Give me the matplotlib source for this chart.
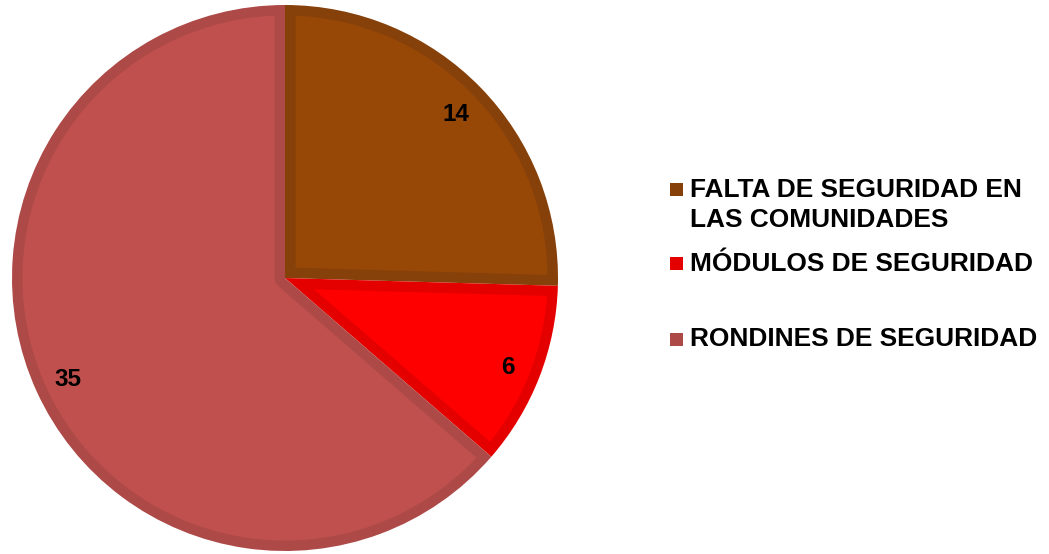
import matplotlib
matplotlib.use("Agg")
import numpy as np
import matplotlib.pyplot as plt
from matplotlib.patches import Rectangle

categories = ["FALTA DE SEGURIDAD EN\nLAS COMUNIDADES", "MÓDULOS DE SEGURIDAD", "RONDINES DE SEGURIDAD"]
values = [14, 6, 35]
colors = ["#974706", "#FF0000", "#C0504D"]
edge_colors = ["#86400A", "#E50000", "#AD4A48"]

W, H, DPI = 1049, 554, 100
plt.rcParams['font.family'] = ['Liberation Sans', 'DejaVu Sans']
fig = plt.figure(figsize=(W / DPI, H / DPI), dpi=DPI)

cx, cy, rpx = 285, 278, 273
ax = fig.add_axes([(cx - rpx) / W, (H - cy - rpx) / H, 2 * rpx / W, 2 * rpx / H])

total = sum(values)
wedges, texts, autotexts = ax.pie(
    values, colors=edge_colors, startangle=90, counterclock=False, radius=1,
    wedgeprops=dict(linewidth=0),
    autopct=lambda p: f"{round(p * total / 100):.0f}", pctdistance=0.875,
    textprops=dict(fontsize=17.5, fontweight='bold', color='black'))
ax.set_xlim(-1, 1)
ax.set_ylim(-1, 1)
ax.set_aspect('equal')
ax.axis('off')


def inset_sector(a1, a2, R, d):
    """Polygon of a circular sector (degrees a1..a2 ccw) shrunk inward by d."""
    a1r, a2r = np.radians(a1), np.radians(a2)
    s = a2r - a1r
    t = np.sqrt((R - d) ** 2 - d ** 2)
    delta = np.arctan2(d, t)
    arc = np.linspace(a1r + delta, a2r - delta, 200)
    pts = [((R - d) * np.cos(a), (R - d) * np.sin(a)) for a in arc]
    if s < np.pi:
        bis = (a1r + a2r) / 2
        L = d / np.sin(s / 2)
        pts.append((L * np.cos(bis), L * np.sin(bis)))
    else:
        small = np.linspace(a2r - np.pi / 2, a1r + np.pi / 2, 60)
        pts += [(d * np.cos(a), d * np.sin(a)) for a in small]
    return np.array(pts)


d = 10.5 / rpx
for w, fc in zip(wedges, colors):
    poly = inset_sector(w.theta1, w.theta2, w.r, d)
    ax.fill(poly[:, 0], poly[:, 1], color=fc, linewidth=0, zorder=w.get_zorder() + 0.1)
for t in autotexts:
    t.set_zorder(5)
    t.set_va('center_baseline')

# legend (manual, to match the uneven spacing)
sq = 13
sq_centers = [189, 263, 339]
baselines = [[197, 227], [271], [346.5]]
for sqy, bls, lab, col in zip(sq_centers, baselines, categories, edge_colors):
    fig.patches.append(Rectangle((670 / W, (H - sqy - sq / 2) / H), sq / W, sq / H,
                                 transform=fig.transFigure, facecolor=col, edgecolor='none'))
    for line, bl in zip(lab.split('\n'), bls):
        fig.text(690 / W, (H - bl) / H, line, fontsize=18.9, fontweight='bold',
                 va='baseline', ha='left')

fig.savefig("out.png", dpi=DPI)
